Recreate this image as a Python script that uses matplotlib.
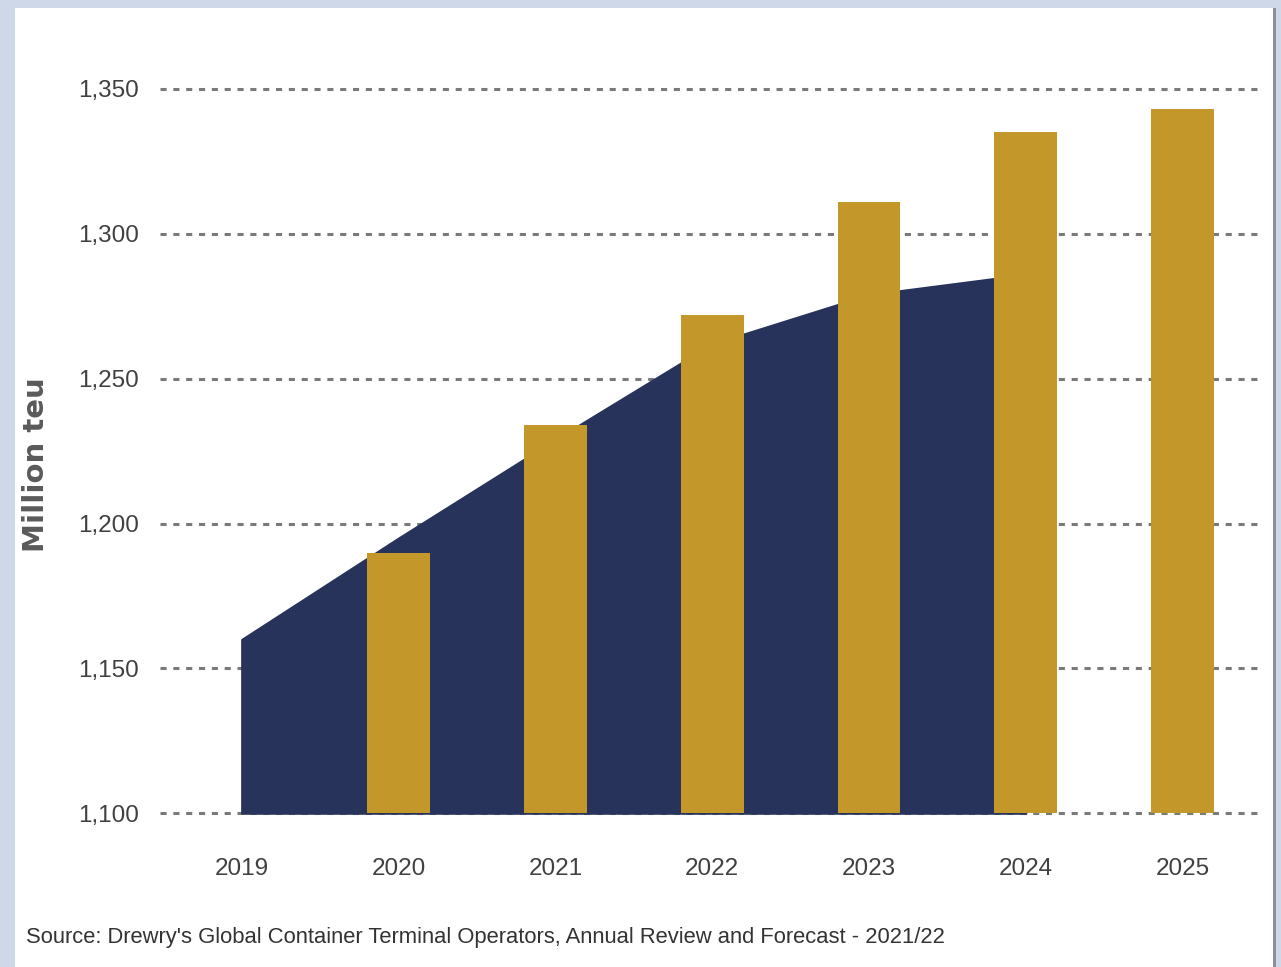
import matplotlib
matplotlib.use("Agg")
import matplotlib.pyplot as plt
from matplotlib.patches import Rectangle

plt.rcParams['font.family'] = ['Liberation Sans', 'DejaVu Sans']

years = ['2019', '2020', '2021', '2022', '2023', '2024', '2025']
# dark area, 2019-2024
area_vals = [1160, 1195, 1229, 1262, 1279, 1286]
# gold bars, 2020-2025
bar_vals = [1190, 1234, 1272, 1311, 1335, 1343]
yticks = [1100, 1150, 1200, 1250, 1300, 1350]
ytick_labels = ['1,100', '1,150', '1,200', '1,250', '1,300', '1,350']
source = "Source: Drewry's Global Container Terminal Operators, Annual Review and Forecast - 2021/22"

navy = '#27335a'
gold = '#c3972a'
grid_c = '#7a7a7a'
text_c = '#404040'

fig = plt.figure(figsize=(12.81, 9.67), dpi=100, facecolor='#cfd8e8')
# white inner panel and grey right edge
fig.patches.append(Rectangle((15 / 1281, 0), 1258 / 1281, 959 / 967,
                             transform=fig.transFigure, facecolor='white',
                             edgecolor='none', zorder=-10))
fig.patches.append(Rectangle((1273 / 1281, 0), 3 / 1281, 959 / 967,
                             transform=fig.transFigure, facecolor='#8a8f99',
                             edgecolor='none', zorder=-10))

ax = fig.add_axes([0.125, 0.159, 0.857, 0.752])
ax.set_zorder(1)
ax.set_facecolor('none')

for y in yticks:
    ax.axhline(y, color=grid_c, lw=2.2, ls=(0, (2, 2.2)), zorder=1, clip_on=False)

x_area = list(range(len(area_vals)))
ax.fill_between(x_area, 1100, area_vals, color=navy, zorder=2, lw=1.5,
                edgecolor=navy, clip_on=False)

x_bars = list(range(1, len(bar_vals) + 1))
ax.bar(x_bars, [v - 1100 for v in bar_vals], bottom=1100, width=0.4,
       color=gold, zorder=3, clip_on=False)

ax.set_xlim(-0.52, 6.48)
ax.set_ylim(1100, 1351)
ax.set_yticks(yticks)
ax.set_yticklabels(ytick_labels)
ax.set_xticks(range(len(years)))
ax.set_xticklabels(years)

for s in ax.spines.values():
    s.set_visible(False)
ax.tick_params(length=0, labelsize=17.5, colors=text_c)
ax.tick_params(axis='y', pad=15)
ax.tick_params(axis='x', pad=32)

ax.set_ylabel('Million teu', fontsize=21, color='#5a5a5a', fontweight='bold',
              family=['DejaVu Sans'])
ax.yaxis.set_label_coords(-0.10, 0.48)

fig.text(26 / 1281, 1 - 938 / 967, source, fontsize=15.8, color='#333333',
         va='center', ha='left')

fig.savefig('out.png', dpi=100, facecolor=fig.get_facecolor())
